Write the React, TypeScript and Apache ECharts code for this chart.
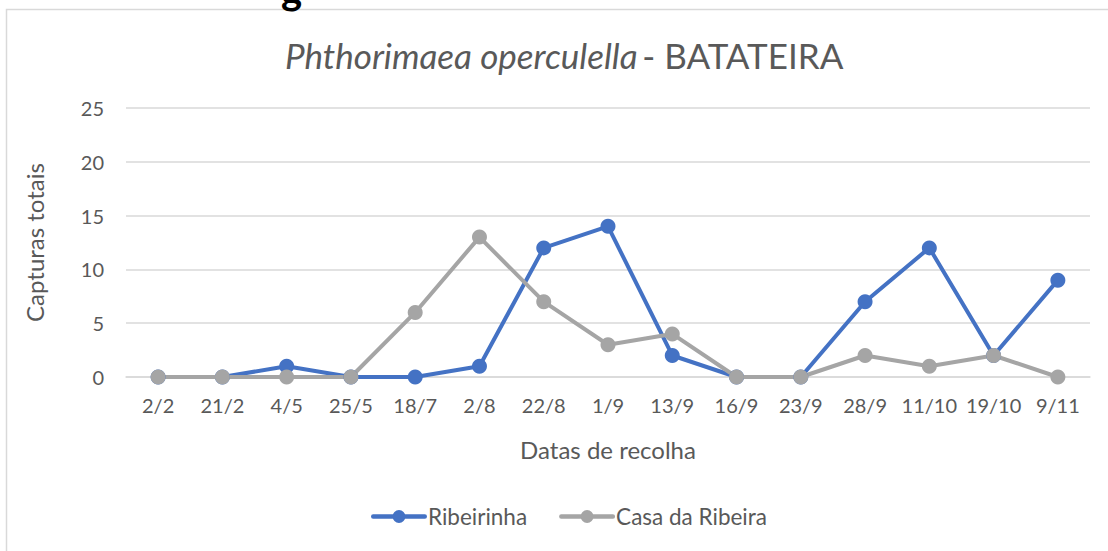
import React, { useEffect, useRef } from "react";
import * as echarts from "echarts";

const categories = ["2/2", "21/2", "4/5", "25/5", "18/7", "2/8", "22/8", "1/9", "13/9", "16/9", "23/9", "28/9", "11/10", "19/10", "9/11"];
const ribeirinha = [0, 0, 1, 0, 0, 1, 12, 14, 2, 0, 0, 7, 12, 2, 9];
const casaDaRibeira = [0, 0, 0, 0, 6, 13, 7, 3, 4, 0, 0, 2, 1, 2, 0];
const yTicks = { min: 0, max: 25, interval: 5 };

const FONT = "Lato, 'Open Sans', sans-serif";
const TXT = "#595959";
const LEGEND_ICON =
  "path://M2,4.8 L54,4.8 A2.2,2.2 0 0,1 54,9.2 L2,9.2 A2.2,2.2 0 0,1 2,4.8 Z M21.5,7 A6.5,6.5 0 1,1 34.5,7 A6.5,6.5 0 1,1 21.5,7 Z";

export default function App() {
  const ref = useRef<HTMLDivElement>(null);
  useEffect(() => {
    if (!ref.current) return;
    const chart = echarts.init(ref.current, null, { renderer: "svg" });
    chart.setOption({
      animation: false,
      backgroundColor: "#ffffff",
      textStyle: { fontFamily: FONT, color: TXT },
      title: {
        text: "{i|Phthorimaea operculella} {n|- BATATEIRA}",
        left: 280,
        top: 32,
        textStyle: {
          fontWeight: "normal",
          rich: {
            i: { fontStyle: "italic", fontWeight: "normal", fontSize: 35, color: TXT, fontFamily: FONT },
            n: { fontWeight: "normal", fontSize: 35, color: TXT, fontFamily: FONT },
          },
        },
      },
      graphic: [
        {
          type: "rect",
          shape: { x: 6.5, y: 9.5, width: 1200, height: 700 },
          style: { fill: "none", stroke: "#d9d9d9", lineWidth: 1.5 },
          silent: true,
        },
        {
          type: "text",
          x: 281,
          y: -31,
          style: { text: "g", fontSize: 40, fontWeight: "bold", fill: "#000", fontFamily: FONT },
          silent: true,
        },
      ],
      legend: {
        bottom: 18,
        left: 366,
        itemWidth: 56,
        itemHeight: 14,
        itemGap: 32,
        textStyle: { fontSize: 22.5, color: TXT, fontFamily: FONT, padding: [0, 0, 0, -4] },
        data: [
          { name: "Ribeirinha", icon: LEGEND_ICON },
          { name: "Casa da Ribeira", icon: LEGEND_ICON },
        ],
      },
      grid: { left: 126, right: 18, top: 108, bottom: 174 },
      xAxis: {
        type: "category",
        data: categories,
        boundaryGap: true,
        name: "Datas de recolha",
        nameLocation: "middle",
        nameGap: 60,
        nameTextStyle: { fontSize: 24, color: TXT, fontFamily: FONT },
        axisLine: { lineStyle: { color: "#d9d9d9", width: 1.5 } },
        axisTick: { show: false },
        axisLabel: { fontSize: 20, color: TXT, margin: 18, interval: 0, fontFamily: FONT },
      },
      yAxis: {
        type: "value",
        min: yTicks.min,
        max: yTicks.max,
        interval: yTicks.interval,
        name: "Capturas totais",
        nameLocation: "middle",
        nameGap: 80,
        nameRotate: 90,
        nameTextStyle: { fontSize: 24, color: TXT, fontFamily: FONT },
        axisLine: { show: false },
        axisTick: { show: false },
        axisLabel: { fontSize: 20, color: TXT, margin: 22, fontFamily: FONT },
        splitLine: { lineStyle: { color: "#d9d9d9", width: 1.5 } },
      },
      series: [
        {
          name: "Ribeirinha",
          type: "line",
          data: ribeirinha,
          symbol: "circle",
          symbolSize: 15,
          itemStyle: { color: "#4472C4" },
          lineStyle: { color: "#4472C4", width: 4 },
        },
        {
          name: "Casa da Ribeira",
          type: "line",
          data: casaDaRibeira,
          symbol: "circle",
          symbolSize: 15,
          itemStyle: { color: "#A5A5A5" },
          lineStyle: { color: "#A5A5A5", width: 4 },
        },
      ],
    });
    return () => chart.dispose();
  }, []);
  return (
    <div
      ref={ref}
      style={{ position: "fixed", left: 0, top: 0, width: 1108, height: 551 }}
    />
  );
}
